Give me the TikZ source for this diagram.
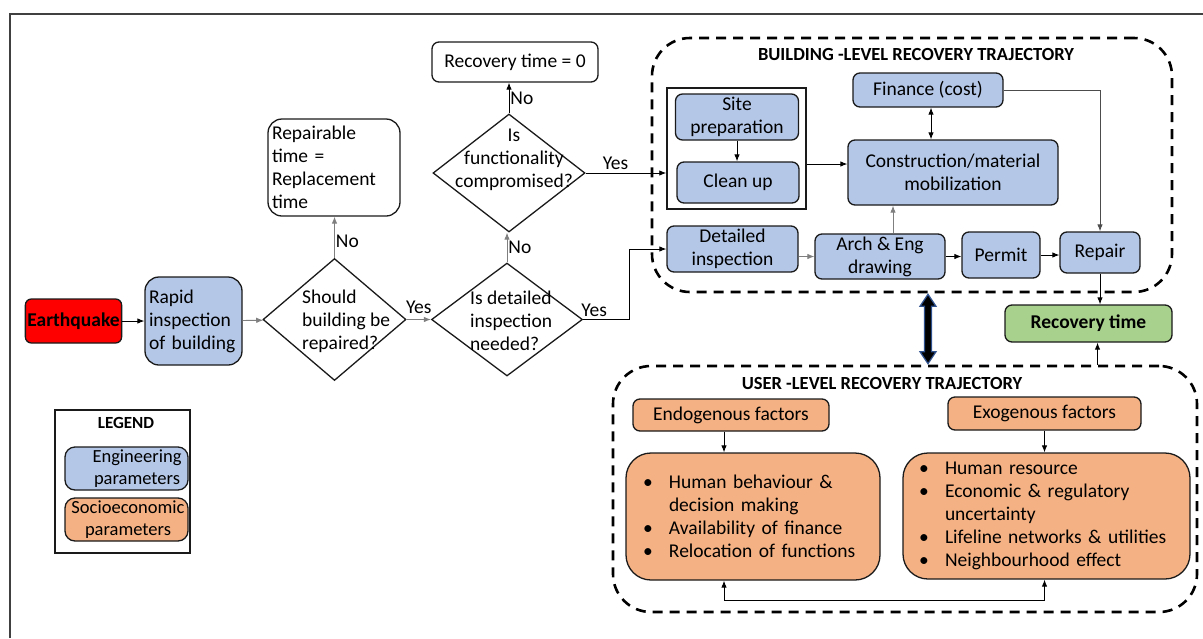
\documentclass[tikz,border=0pt]{standalone}
\usepackage{fontspec}
\setmainfont{Carlito}
\usetikzlibrary{shapes.geometric,arrows.meta,calc}
\definecolor{engblue}{HTML}{B4C7E7}
\definecolor{socorange}{HTML}{F4B183}
\definecolor{resgreen}{HTML}{A9D18E}
\definecolor{quakered}{HTML}{FF0000}
\definecolor{edge}{HTML}{1A1A1A}
\definecolor{wire}{HTML}{7F7F7F}
\definecolor{arrowrim}{HTML}{2F528F}
\newcommand{\bodyfont}{\fontsize{19.5}{23}\selectfont}
\newcommand{\bul}[1]{\makebox[26pt][l]{\textbullet}#1}
\newcommand{\cont}[1]{\hspace*{26pt}#1}
\begin{document}
\begin{tikzpicture}[x=1pt,y=-1pt,
  every node/.style={font=\bodyfont},
  box/.style={draw=edge, line width=1.3pt, rounded corners=7pt, align=center, inner sep=2pt},
  eng/.style={box, fill=engblue},
  soc/.style={box, fill=socorange},
  whitebox/.style={box, fill=white},
  decision/.style={diamond, draw=edge, line width=1.3pt, inner sep=0pt, fill=white},
  zone/.style={draw=black, line width=2.6pt, dash pattern=on 10pt off 7pt, rounded corners=38pt, inner sep=0pt},
  conn/.style={line width=0.9pt, draw=black, -{Latex[length=7pt,width=5.5pt]}},
  conntwo/.style={line width=0.9pt, draw=black, {Latex[length=7pt,width=5.5pt]}-{Latex[length=7pt,width=5.5pt]}},
  soft/.style={conn, draw=wire},
  tag/.style={inner sep=1pt},
  heading/.style={font=\fontsize{18.5}{22}\selectfont\bfseries},
]
\useasboundingbox (0,0) rectangle (1203,638);
% outer frame
\draw[line width=2.2pt, draw=black!75] (10,638) -- (10,14) -- (1203,14);

% main decision flow
\node[box, fill=quakered, rounded corners=6pt, minimum width=95pt, minimum height=44pt, font=\bodyfont\bfseries] (quake) at (73.5,321) {Earthquake};
\node[eng, rounded corners=14pt, text width=89pt, align=left, inner sep=4pt, minimum height=88pt] (rapid) at (193.5,321) {Rapid\\inspection\\of building};

\node[decision, minimum width=143pt, minimum height=122pt] (should) at (334.5,319.5) {};
\node[anchor=west, align=left, inner sep=0pt] (shouldtxt) at (302,321) {Should\\building be\\repaired?};

\node[whitebox, rounded corners=14pt, text width=124pt, align=left, inner sep=4pt, minimum height=97pt] (repl) at (334,167.5) {Repairable\\time =\\Replacement\\time};

\node[decision, minimum width=151pt, minimum height=113pt] (detq) at (507,319.5) {};
\node[anchor=west, align=left, inner sep=0pt] (detqtxt) at (470,321) {Is detailed\\inspection\\needed?};

\node[decision, minimum width=152pt, minimum height=118pt] (funq) at (509,173) {};
\node[align=center, inner sep=0pt] (funqtxt) at (514,160) {Is\\functionality\\compromised?};

\node[whitebox, minimum width=166pt, minimum height=40pt] (zero) at (515,62) {Recovery time = 0};

% building-level trajectory
\node[zone, minimum width=520pt, minimum height=254pt] (bldg) at (912,165) {};
\node[heading] (bldgtitle) at (916,54) {BUILDING -LEVEL RECOVERY TRAJECTORY};

\node[draw=edge, line width=1.5pt, minimum width=139pt, minimum height=121pt, inner sep=0pt] (prep) at (736.5,148.5) {};
\node[eng, minimum width=123pt, minimum height=46pt] (site) at (737,117) {Site\\preparation};
\node[eng, minimum width=122pt, minimum height=41pt] (clean) at (738,182.5) {Clean up};
\node[eng, minimum width=210pt, minimum height=65pt] (mobil) at (953,172.5) {Construction/material\\mobilization};
\node[eng, minimum width=150pt, minimum height=34pt] (cost) at (928,90) {Finance (cost)};
\node[eng, minimum width=131pt, minimum height=46pt] (detail) at (732.5,249) {Detailed\\inspection};
\node[eng, minimum width=130pt, minimum height=45pt] (design) at (880,256.5) {Arch \& Eng\\drawing};
\node[eng, minimum width=78pt, minimum height=46pt] (permit) at (1001,255) {Permit};
\node[eng, minimum width=80pt, minimum height=41pt] (repair) at (1100,252.5) {Repair};

\node[box, fill=resgreen, minimum width=167pt, minimum height=37pt, font=\bodyfont\bfseries] (rtime) at (1088.5,323.5) {Recovery time};

% user-level trajectory
\node[zone, minimum width=584pt, minimum height=246pt] (user) at (905,489) {};
\node[heading] (usertitle) at (882,383) {USER -LEVEL RECOVERY TRAJECTORY};
\node[soc, minimum width=196pt, minimum height=32pt] (endo) at (731,415) {Endogenous factors};
\node[soc, minimum width=193pt, minimum height=33pt] (exo) at (1044.5,413.5) {Exogenous factors};
\node[soc, rounded corners=25pt, minimum width=254pt, minimum height=127pt, text width=220pt, align=left, inner xsep=16pt] (endolist) at (753,516.5)
  {\bul{Human behaviour \&}\\\cont{decision making}\\\bul{Availability of finance}\\\bul{Relocation of functions}};
\node[soc, rounded corners=25pt, minimum width=287pt, minimum height=126pt, text width=255pt, align=left, inner xsep=16pt] (exolist) at (1046.5,516)
  {\bul{Human resource}\\\bul{Economic \& regulatory}\\\cont{uncertainty}\\\bul{Lifeline networks \& utilities}\\\bul{Neighbourhood effect}};

% legend
\node[draw=edge, line width=1.3pt, minimum width=135pt, minimum height=143pt, inner sep=0pt] (legend) at (122.5,481.5) {};
\node[font=\fontsize{17}{20}\selectfont\bfseries] (legtitle) at (126,423) {LEGEND};
\node[eng, rounded corners=10pt, minimum width=123pt, minimum height=43pt] (legeng) at (126.5,468.5) {};
\node[align=center, font=\fontsize{18.5}{22}\selectfont] (legengtxt) at (137,468.5) {Engineering\\parameters};
\node[soc, rounded corners=10pt, minimum width=123pt, minimum height=43pt] (legsoc) at (126.5,519.5) {};
\node[align=center, font=\fontsize{18.5}{22}\selectfont] (legsoctxt) at (128,519.5) {Socioeconomic\\parameters};

% connectors of the decision flow
\draw[conn] (quake) -- (rapid);
\draw[soft] (rapid) -- (should);
\draw[soft] (should.north) -- node[tag, right, pos=0.4] {No} (should.north |- repl.south);
\draw[soft] (should.east) -- node[tag, above=4pt] {Yes} (should.east -| detq.west);
\draw[soft] (detq.north) -- node[tag, right] {No} (detq.north |- funq.south);
\draw[conn] (funq.north) -- node[tag, right] {No} (funq.north |- zero.south);
\draw[conn] (funq.east) -- node[tag, above=2pt, pos=0.37] {Yes} (funq.east -| prep.west);
\draw[conn] (detq.east) -- node[tag, above=1pt, pos=0.24] {Yes} ++(46,0) |- (detail.west);

% connectors inside the building-level trajectory
\draw[conn] (site.south) -- (site.south |- clean.north);
\coordinate (prepout) at ([yshift=-15.5pt]prep.east);
\draw[conn] (prepout) -- (prepout -| mobil.west);
\coordinate (costout) at ([xshift=3pt]cost.south);
\draw[conntwo] (costout) -- (costout |- mobil.north);
\draw[conn, draw=black!70] (cost.east) -| (repair.north);
\draw[soft] (detail.east |- design.west) -- (design.west);
\draw[conn] (design.east) -- (design.east -| permit.west);
\draw[conn] (permit.east) -- (permit.east -| repair.west);
\coordinate (designup) at ([xshift=13pt]design.north);
\draw[soft] (designup) -- (designup |- mobil.south);
\draw[conn] (repair.south) -- (repair.south |- rtime.north);
\coordinate (rin) at ([xshift=9pt]rtime.south);
\draw[conn] (rin |- user.north) -- (rin);

% connectors inside the user-level trajectory
\coordinate (endoout) at ([xshift=-7pt]endo.south);
\draw[conn] (endoout) -- (endoout |- endolist.north);
\draw[conn] (exo.south) -- (exo.south |- exolist.north);
\coordinate (endoloop) at (endoout |- endolist.south);
\draw[conntwo] (endoloop) -- ++(0,20) -| (exo.south |- exolist.south);

% thick two-way link between the two trajectories
\coordinate (lt) at ([xshift=16pt,yshift=-1pt]bldg.south);
\coordinate (lb) at ([xshift=23pt,yshift=1pt]user.north);
\filldraw[fill=black, draw=arrowrim, line width=1.2pt, line join=miter]
  (lt) -- ($(lt)+(8,12)$) -- ($(lt)+(3.5,12)$) -- ($(lb)+(3.5,-12)$) -- ($(lb)+(8,-12)$) -- (lb)
  -- ($(lb)+(-8,-12)$) -- ($(lb)+(-3.5,-12)$) -- ($(lt)+(-3.5,12)$) -- ($(lt)+(-8,12)$) -- cycle;
\end{tikzpicture}
\end{document}
